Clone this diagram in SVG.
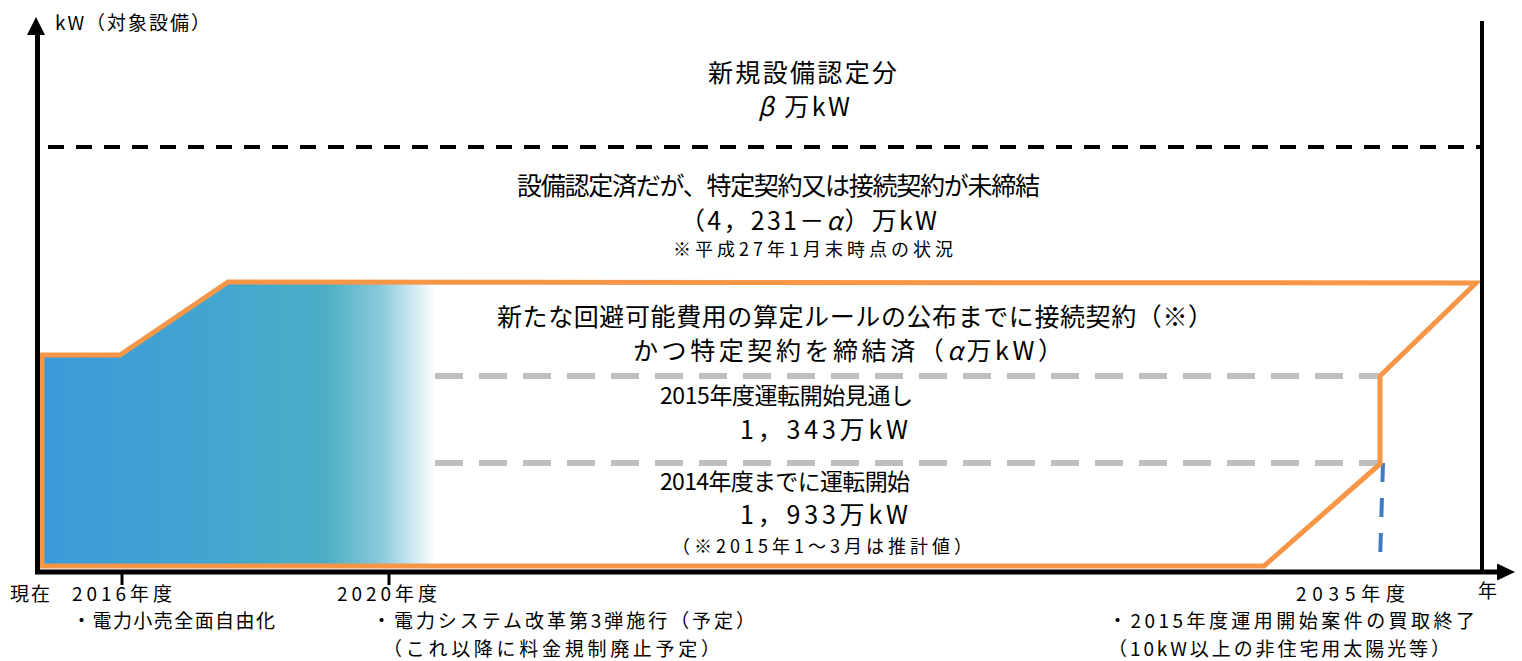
<svg xmlns="http://www.w3.org/2000/svg" width="1522" height="661" viewBox="0 0 1522 661">
<defs>
<style>
text{font-family:"Noto Sans CJK JP","Liberation Sans",sans-serif;fill:#000}
.big{font-size:25px}
.big2{font-size:23px}
.mid{font-size:19px}
.sm{font-size:18px}
.it{font-style:italic}
.axis{stroke:#000;stroke-width:5;fill:none}
.gray{stroke:#BFBFBF;stroke-width:6;stroke-dasharray:28 16;fill:none}
</style>
<linearGradient id="g" gradientUnits="userSpaceOnUse" x1="42" y1="0" x2="436" y2="0">
<stop offset="0" stop-color="#3A9AD9"/>
<stop offset="0.45" stop-color="#43A6D0"/>
<stop offset="0.72" stop-color="#4CAEC5"/>
<stop offset="0.86" stop-color="#8ACADB"/>
<stop offset="1" stop-color="#FFFFFF"/>
</linearGradient>
</defs>
<rect width="1522" height="661" fill="#fff"/>

<g id="fill">
<polygon points="42,355 120,355 228,281 436,281 436,566 42,566" fill="url(#g)"/>
</g>

<g id="connectors">
<line class="gray" x1="435" y1="376" x2="1380" y2="376"/>
<line class="gray" x1="435" y1="463" x2="1380" y2="463"/>
<line x1="48" y1="147" x2="1482" y2="147" stroke="#000" stroke-width="4" stroke-dasharray="16 12"/>
<line x1="1383" y1="463" x2="1380" y2="562" stroke="#3F7BC0" stroke-width="4" stroke-dasharray="19 16"/>
<polygon points="42,355 120,355 228,282 1476,283 1380,376 1380,464 1264,566 42,566" fill="none" stroke="#F79646" stroke-width="5" stroke-linejoin="miter"/>
<line class="axis" x1="37.5" y1="30" x2="37.5" y2="572"/>
<polygon points="36,17 27,35 45,35" fill="#000"/>
<line class="axis" x1="35" y1="572" x2="1500" y2="572"/>
<polygon points="1515,572 1497,563.5 1497,580.5" fill="#000"/>
<line x1="1482" y1="21" x2="1482" y2="572" stroke="#000" stroke-width="4"/>
<line x1="122" y1="572" x2="122" y2="585" stroke="#000" stroke-width="3"/>
<line x1="389" y1="572" x2="389" y2="585" stroke="#000" stroke-width="3"/>
</g>

<g id="axis-label">
<text class="mid" x="55" y="30" textLength="155">kW（対象設備）</text>
<text class="mid" x="1478" y="598">年</text>
</g>

<g id="node-new">
<text class="big" x="708" y="82" textLength="189">新規設備認定分</text>
<text class="big" x="758" y="116" textLength="92"><tspan class="it">β</tspan> 万kW</text>
</g>

<g id="node-unsigned">
<text class="big" x="517" y="195" textLength="523">設備認定済だが、特定契約又は接続契約が未締結</text>
<text class="big" x="680" y="230" textLength="257">（4，231－<tspan class="it">α</tspan>）万kW</text>
<text class="sm" x="673" y="256" textLength="280">※平成27年1月末時点の状況</text>
</g>

<g id="node-signed">
<text class="big" x="497" y="326" textLength="716">新たな回避可能費用の算定ルールの公布までに接続契約（※）</text>
<text class="big" x="633" y="360" textLength="430">かつ特定契約を締結済（<tspan class="it">α</tspan>万kW）</text>
</g>

<g id="node-2015">
<text class="big2" x="660" y="404" textLength="253">2015年度運転開始見通し</text>
<text class="big" x="740" y="439" textLength="168">1，343万kW</text>
</g>

<g id="node-2014">
<text class="big2" x="660" y="490" textLength="250">2014年度までに運転開始</text>
<text class="big" x="740" y="524" textLength="168">1，933万kW</text>
<text class="sm" x="672" y="553" textLength="300">（※2015年1～3月は推計値）</text>
</g>

<g id="timeline-now">
<text class="mid" x="10" y="601" textLength="40">現在</text>
</g>
<g id="timeline-2016">
<text class="mid" x="72" y="601" textLength="100">2016年度</text>
<text class="mid" x="72" y="628" textLength="203">・電力小売全面自由化</text>
</g>
<g id="timeline-2020">
<text class="mid" x="337" y="601" textLength="100">2020年度</text>
<text class="mid" x="372" y="628" textLength="383">・電力システム改革第3弾施行（予定）</text>
<text class="mid" x="383" y="656" textLength="337">（これ以降に料金規制廃止予定）</text>
</g>
<g id="timeline-2035">
<text class="mid" x="1296" y="601" textLength="109">2035年度</text>
<text class="mid" x="1108" y="628" textLength="367">・2015年度運用開始案件の買取終了</text>
<text class="mid" x="1108" y="656" textLength="342">（10kW以上の非住宅用太陽光等）</text>
</g>
</svg>
